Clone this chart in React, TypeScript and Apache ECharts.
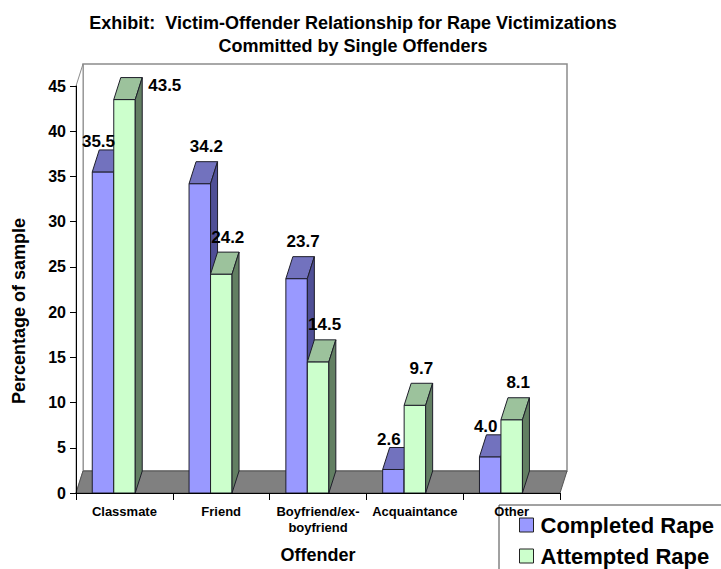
import React, { useEffect, useRef } from "react";
import * as echarts from "echarts";

const categories = ["Classmate", "Friend", "Boyfriend/ex-\nboyfriend", "Acquaintance", "Other"];
const completedRape = [35.5, 34.2, 23.7, 2.6, 4.0];
const attemptedRape = [43.5, 24.2, 14.5, 9.7, 8.1];
const seriesNames = ["Completed Rape", "Attempted Rape"];
const yTicks = { min: 0, max: 45, interval: 5 };

const FONT = "'Liberation Sans', Arial, Helvetica, sans-serif";
const DX = 7;
const DY = -22;

const palette = [
  { front: "#9999FF", top: "#7272BE", side: "#4F4F96" },
  { front: "#CCFFCC", top: "#9CC29C", side: "#627F62" },
];

const seriesValues = [completedRape, attemptedRape];

function barRenderer(si: number) {
  return (params: any, api: any) => {
    const ci = api.value(0);
    const v = api.value(1);
    const base = api.coord([ci, 0]);
    const top = api.coord([ci, v]);
    const band = api.size([1, 0])[0];
    const catLeft = base[0] - band / 2;
    const bw = band * 0.222;
    const x0 = catLeft + band * 0.168 + si * bw;
    const col = palette[si];
    const stroke = "#1e1e2a";
    const yt = top[1];
    const yb = base[1];
    const cs = params.coordSys;
    const topBackY = yt + DY;
    const topCx = x0 + bw / 2 + DX / 2;
    const other = seriesValues[1 - si][ci];
    let lx = topCx + 3;
    let ly = topBackY - 15;
    let align = "center";
    if (topBackY - 22 < cs.y + DY) {
      lx = x0 + bw + DX + 6;
      ly = topBackY + 8;
      align = "left";
    } else if (si === 0 && other > v) {
      lx = topCx - 8;
      ly = topBackY - 8;
    }
    return {
      type: "group",
      children: [
        {
          type: "rect",
          shape: { x: x0, y: yt, width: bw, height: yb - yt },
          style: { fill: col.front, stroke, lineWidth: 1 },
        },
        {
          type: "polygon",
          shape: {
            points: [
              [x0, yt],
              [x0 + bw, yt],
              [x0 + bw + DX, yt + DY],
              [x0 + DX, yt + DY],
            ],
          },
          style: { fill: col.top, stroke, lineWidth: 1 },
        },
        {
          type: "polygon",
          shape: {
            points: [
              [x0 + bw, yt],
              [x0 + bw, yb],
              [x0 + bw + DX, yb + DY],
              [x0 + bw + DX, yt + DY],
            ],
          },
          style: { fill: col.side, stroke, lineWidth: 1 },
        },
        {
          type: "text",
          z2: 100,
          style: {
            text: v.toFixed(1),
            x: lx,
            y: ly,
            align,
            verticalAlign: "middle",
            fill: "#000",
            font: `bold 17px ${FONT}`,
          },
        },
      ],
    };
  };
}

function wallRenderer(params: any, api: any) {
  const { x, y, width: w, height: h } = params.coordSys;
  return {
    type: "group",
    children: [
      {
        type: "rect",
        shape: { x: x + DX, y: y + DY, width: w, height: h },
        style: { fill: "#fff", stroke: "#8c8c8c", lineWidth: 1.5 },
      },
      {
        type: "polygon",
        shape: {
          points: [
            [x, y + h],
            [x, y],
            [x + DX, y + DY],
            [x + DX, y + h + DY],
          ],
        },
        style: { fill: "#fff", stroke: "#8c8c8c", lineWidth: 1 },
      },
      {
        type: "polygon",
        shape: {
          points: [
            [x, y + h],
            [x + w, y + h],
            [x + w + DX, y + h + DY],
            [x + DX, y + h + DY],
          ],
        },
        style: { fill: "#808080", stroke: "#555", lineWidth: 1 },
      },
    ],
  };
}

export default function App() {
  const ref = useRef<HTMLDivElement>(null);
  useEffect(() => {
    if (!ref.current) return;
    const chart = echarts.init(ref.current, null, { renderer: "svg" });
    chart.setOption({
      animation: false,
      backgroundColor: "#fff",
      title: {
        text: "Exhibit:  Victim-Offender Relationship for Rape Victimizations\nCommitted by Single Offenders",
        left: 348,
        top: 6,
        textAlign: "center",
        textStyle: {
          fontFamily: FONT,
          fontWeight: "bold",
          fontSize: 18,
          lineHeight: 23,
          color: "#000",
        },
      },
      grid: { left: 76, top: 86, width: 484, height: 407 },
      xAxis: {
        type: "category",
        data: categories,
        name: "Offender",
        nameLocation: "middle",
        nameGap: 53,
        nameTextStyle: { fontFamily: FONT, fontWeight: "bold", fontSize: 18, color: "#000" },
        axisLine: { show: true, lineStyle: { color: "#000", width: 1 } },
        axisTick: { show: true, length: 7, lineStyle: { color: "#000" } },
        axisLabel: {
          fontFamily: FONT,
          fontWeight: "bold",
          fontSize: 13,
          lineHeight: 16,
          color: "#000",
          margin: 10,
          interval: 0,
        },
        splitLine: { show: false },
        z: 5,
      },
      yAxis: {
        type: "value",
        min: yTicks.min,
        max: yTicks.max,
        interval: yTicks.interval,
        axisLine: { show: true, lineStyle: { color: "#000", width: 1 } },
        axisTick: { show: true, length: 6, lineStyle: { color: "#000" } },
        axisLabel: {
          fontFamily: FONT,
          fontWeight: "bold",
          fontSize: 16,
          color: "#000",
          margin: 10,
        },
        splitLine: { show: false },
        z: 5,
      },
      legend: {
        orient: "vertical",
        left: 519,
        top: 514,
        padding: 0,
        itemGap: 9,
        itemWidth: 14,
        itemHeight: 14,
        icon: "rect",
        backgroundColor: "transparent",
        textStyle: {
          fontFamily: FONT,
          fontWeight: "bold",
          fontSize: 22,
          lineHeight: 22,
          color: "#000",
          padding: [0, 0, 0, 2],
        },
        data: seriesNames.map((n, i) => ({
          name: n,
          itemStyle: { color: palette[i].front, borderColor: "#222", borderWidth: 1 },
        })),
      },
      graphic: [
        {
          type: "rect",
          silent: true,
          z: 0,
          shape: { x: 499, y: 505, width: 240, height: 80 },
          style: { fill: "transparent", stroke: "#444", lineWidth: 1 },
        },
        {
          type: "text",
          x: 19,
          y: 311,
          rotation: Math.PI / 2,
          style: {
            text: "Percentage of sample",
            align: "center",
            verticalAlign: "middle",
            font: `bold 18px ${FONT}`,
            fill: "#000",
          },
        },
      ],
      series: [
        {
          type: "custom",
          name: "walls",
          z: 1,
          silent: true,
          renderItem: wallRenderer,
          data: [[0, 0]],
        },
        ...seriesValues.map((vals, si) => ({
          type: "custom",
          name: seriesNames[si],
          z: 2,
          itemStyle: { color: palette[si].front },
          renderItem: barRenderer(si),
          data: vals.map((v, i) => [i, v]),
        })),
      ],
    });
    return () => chart.dispose();
  }, []);
  return (
    <div
      ref={ref}
      style={{ position: "absolute", left: 0, top: 0, width: 721, height: 569 }}
    />
  );
}
